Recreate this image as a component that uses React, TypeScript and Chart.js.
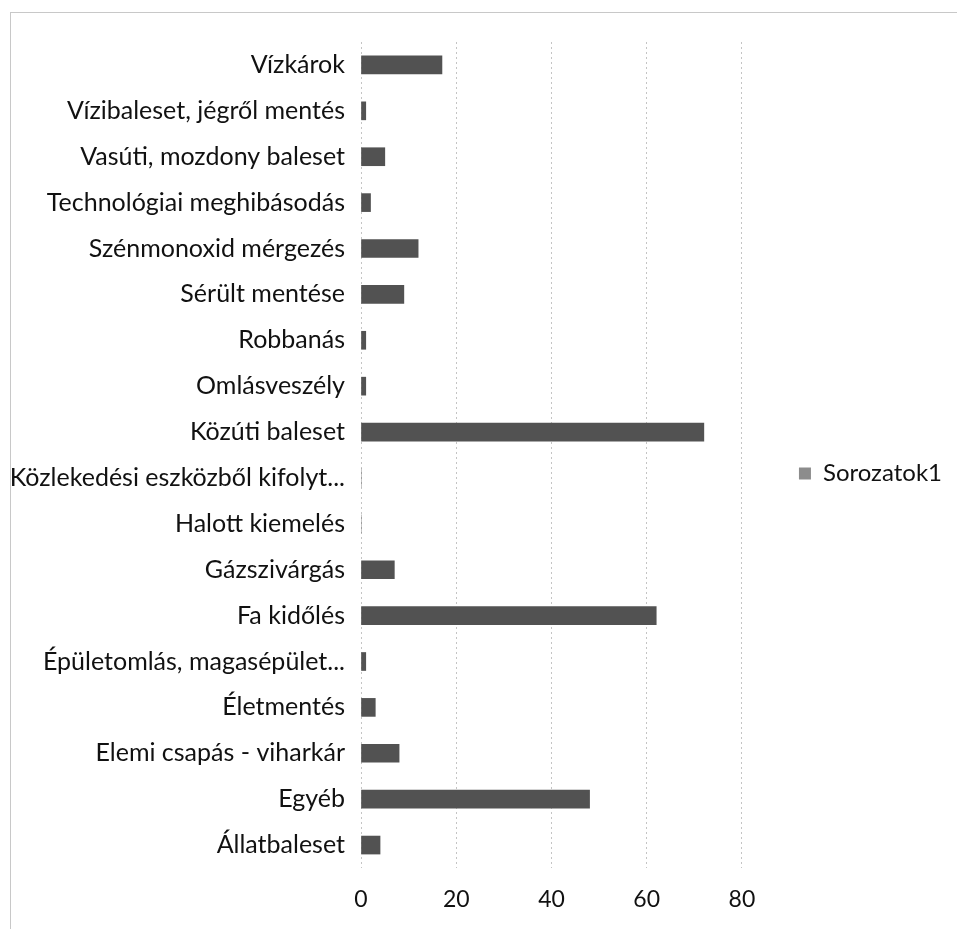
import React, { useEffect, useRef } from "react";
import { Chart, registerables } from "chart.js";

Chart.register(...registerables);

const categories: string[] = [
  "Vízkárok",
  "Vízibaleset, jégről mentés",
  "Vasúti, mozdony baleset",
  "Technológiai meghibásodás",
  "Szénmonoxid mérgezés",
  "Sérült mentése",
  "Robbanás",
  "Omlásveszély",
  "Közúti baleset",
  "Közlekedési eszközből kifolyt...",
  "Halott kiemelés",
  "Gázszivárgás",
  "Fa kidőlés",
  "Épületomlás, magasépület...",
  "Életmentés",
  "Elemi csapás - viharkár",
  "Egyéb",
  "Állatbaleset",
];

const seriesName = "Sorozatok1";
const seriesValues: number[] = [17, 1, 5, 2, 12, 9, 1, 1, 72, 0, 0, 7, 62, 1, 3, 8, 48, 4];

const xTicks: number[] = [0, 20, 40, 60, 80];

const FONT = "Lato, 'Open Sans', sans-serif";

const legendShift = {
  id: "legendShift",
  afterLayout(chart: any) {
    const l = chart.legend;
    if (l) {
      l.bottom -= 24;
    }
  },
};

export default function App() {
  const canvasRef = useRef<HTMLCanvasElement | null>(null);

  useEffect(() => {
    const canvas = canvasRef.current;
    if (!canvas) return;
    const chart = new Chart(canvas, {
      type: "bar",
      data: {
        labels: categories,
        datasets: [
          {
            label: seriesName,
            data: seriesValues,
            backgroundColor: "#525252",
            borderWidth: 0,
            barThickness: 18,
          },
        ],
      },
      plugins: [legendShift],
      options: {
        indexAxis: "y",
        animation: false,
        responsive: false,
        maintainAspectRatio: false,
        layout: { padding: { left: 0, right: 5, top: 42, bottom: 0 } },
        scales: {
          x: {
            min: 0,
            max: 80,
            afterBuildTicks: (scale: any) => {
              scale.ticks = xTicks.map((v) => ({ value: v }));
            },
            afterFit: (scale: any) => {
              scale.height = 61;
            },
            grid: {
              display: true,
              color: "#c4c4c4",
              lineWidth: 1,
              drawTicks: false,
            },
            border: { display: false, dash: [2, 3] },
            ticks: {
              color: "#111",
              padding: 18,
              font: { family: FONT, size: 23 },
            },
          },
          y: {
            afterFit: (scale: any) => {
              scale.width = 361;
            },
            grid: { display: false, drawTicks: false },
            border: { display: false },
            ticks: {
              color: "#111",
              padding: 16,
              autoSkip: false,
              font: { family: FONT, size: 25 },
            },
          },
        },
        plugins: {
          tooltip: { enabled: false },
          legend: {
            display: true,
            position: "right",
            align: "center",
            labels: {
              padding: 57,
              boxWidth: 12,
              boxHeight: 12,
              color: "#111",
              font: { family: FONT, size: 24 },
              generateLabels: (c: any) => {
                const items = Chart.defaults.plugins.legend.labels.generateLabels(c);
                return items.map((it: any) => ({
                  ...it,
                  fillStyle: "#8c8c8c",
                  strokeStyle: "#8c8c8c",
                  lineWidth: 0,
                }));
              },
            },
          },
        },
      },
    });
    return () => chart.destroy();
  }, []);

  return (
    <div style={{ position: "fixed", left: 0, top: 0, width: 957, height: 929, background: "#fff" }}>
      <canvas ref={canvasRef} width={957} height={929} style={{ width: 957, height: 929, display: "block" }} />
      <div
        style={{
          position: "absolute",
          left: 10,
          top: 12,
          width: 957,
          height: 929,
          borderTop: "1px solid #c8c8c8",
          borderLeft: "1px solid #c8c8c8",
          pointerEvents: "none",
        }}
      />
    </div>
  );
}
